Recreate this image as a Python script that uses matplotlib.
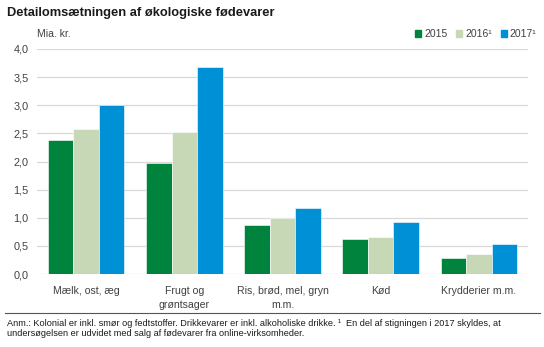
import numpy as np
import matplotlib
matplotlib.use("Agg")
import matplotlib.pyplot as plt
from matplotlib.patches import Rectangle
from matplotlib.lines import Line2D

plt.rcParams['font.family'] = ['Liberation Sans', 'DejaVu Sans']

categories = ["Mælk, ost, æg", "Frugt og\ngrøntsager", "Ris, brød, mel, gryn\nm.m.", "Kød", "Krydderier m.m."]
series_names = ["2015", "2016¹", "2017¹"]
v2015 = [2.39, 1.98, 0.88, 0.62, 0.29]
v2016 = [2.57, 2.52, 0.99, 0.65, 0.36]
v2017 = [3.00, 3.68, 1.18, 0.93, 0.54]
yticks = [0.0, 0.5, 1.0, 1.5, 2.0, 2.5, 3.0, 3.5, 4.0]

colors = ["#00843D", "#C6D8B6", "#0090D6"]
grey = "#404040"

fig = plt.figure(figsize=(5.44, 3.47), dpi=100)
ax = fig.add_axes([37 / 544, 73 / 347, 491 / 544, 225 / 347])

x = np.arange(len(categories))
w = 0.26
for i, (vals, col, name) in enumerate(zip([v2015, v2016, v2017], colors, series_names)):
    ax.bar(x + (i - 1) * w, vals, width=w, color=col, edgecolor="white",
           linewidth=0.4, label=name, zorder=3)

ax.set_xlim(-0.5, len(categories) - 0.5)
ax.set_ylim(0, 4.0)
ax.set_yticks(yticks)
ax.set_yticklabels([f"{t:.1f}".replace(".", ",") for t in yticks], fontsize=7.8, color=grey)
ax.set_xticks(x)
ax.set_xticklabels(categories, fontsize=7.6, color=grey, linespacing=1.4)
ax.tick_params(axis="both", length=0, pad=6)
ax.tick_params(axis="x", pad=9)
ax.grid(axis="y", color="#D9D9D9", linewidth=0.9, zorder=0)
for s in ax.spines.values():
    s.set_visible(False)

fig.text(7 / 544, 1 - 13 / 347, "Detailomsætningen af økologiske fødevarer",
         fontsize=9.3, fontweight="bold", va="center", color="#1a1a1a")
fig.text(37 / 544, 1 - 34 / 347, "Mia. kr.", fontsize=7.5, color=grey, va="center")

handles = [Rectangle((0, 0), 1, 1, color=c) for c in colors]
fig.legend(handles, series_names, loc="center right", bbox_to_anchor=(546 / 544, 1 - 34 / 347),
           ncol=3, frameon=False, fontsize=7.5, handlelength=0.6, handleheight=0.6,
           handletextpad=0.3, columnspacing=0.8, labelcolor=grey)

fig.add_artist(Line2D([5 / 544, 540 / 544], [1 - 313 / 347, 1 - 313 / 347],
                      color="#555555", linewidth=0.8))
fig.text(7 / 544, 1 - 323 / 347,
         "Anm.: Kolonial er inkl. smør og fedtstoffer. Drikkevarer er inkl. alkoholiske drikke. ¹  En del af stigningen i 2017 skyldes, at",
         fontsize=6.6, color="#1a1a1a", va="center")
fig.text(7 / 544, 1 - 334 / 347,
         "undersøgelsen er udvidet med salg af fødevarer fra online-virksomheder.",
         fontsize=6.6, color="#1a1a1a", va="center")

fig.savefig("out.png", dpi=100)
